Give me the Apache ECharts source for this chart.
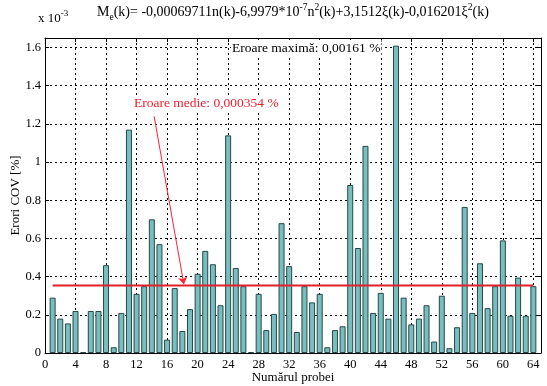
<!DOCTYPE html>
<html>
<head>
<meta charset="utf-8">
<script src="https://cdn.jsdelivr.net/npm/echarts@6/dist/echarts.min.js"></script>
<style>html,body{margin:0;padding:0;background:#fff;}#c{width:547px;height:386px;}</style>
</head>
<body>
<div id="c"></div>
<script>
// Sample numbers (x) and COV errors (in units of 1e-3 %)
const samples = [];
for (let i = 1; i <= 64; i++) samples.push(i);
const errors = [
  0.29, 0.18, 0.155, 0.22, 0.005, 0.22, 0.22, 0.46, 0.03, 0.21,
  1.17, 0.31, 0.35, 0.70, 0.57, 0.07, 0.34, 0.115, 0.23, 0.415,
  0.535, 0.465, 0.25, 1.14, 0.445, 0.35, 0.005, 0.31, 0.12, 0.205,
  0.68, 0.455, 0.11, 0.35, 0.265, 0.31, 0.03, 0.12, 0.14, 0.88,
  0.55, 1.085, 0.21, 0.315, 0.18, 1.61, 0.29, 0.15, 0.18, 0.25,
  0.06, 0.30, 0.025, 0.135, 0.765, 0.21, 0.47, 0.235, 0.35, 0.59,
  0.195, 0.395, 0.195, 0.35
];
const meanError = 0.354;
const meanSpan = [1, 64];
const arrowFrom = [14.3, 1.24];
const arrowTo = [18.2, 0.36];
const xTicks = [0,4,8,12,16,20,24,28,32,36,40,44,48,52,56,60,64];
const yTicks = [0,0.2,0.4,0.6,0.8,1,1.2,1.4,1.6];

const F = 'Liberation Serif, Times New Roman, serif';
const chart = echarts.init(document.getElementById('c'));
const barData = samples.map((s, i) => [s, errors[i]]);

chart.setOption({
  animation: false,
  backgroundColor: '#fff',
  grid: {left: 45, right: 6, top: 38, bottom: 33, show: false, containLabel: false, outerBoundsMode: 'none'},
  xAxis: [{
    type: 'value', min: 0, max: 65, interval: 4, position: 'bottom',
    name: 'Numărul probei', nameLocation: 'middle', nameGap: 18, nameMoveOverlap: false,
    nameTextStyle: {fontFamily: F, fontSize: 13, color: '#000'},
    axisLine: {show: true, onZero: false, lineStyle: {color: '#000', width: 1}},
    axisTick: {show: true, inside: true, length: 4, lineStyle: {color: '#000'}},
    axisLabel: {fontFamily: F, fontSize: 12.5, color: '#000', margin: 5,
      formatter: v => xTicks.indexOf(v) >= 0 ? String(v) : ''},
    splitLine: {show: true, lineStyle: {color: '#000', type: [2, 3], width: 1}}
  }, {
    type: 'value', min: 0, max: 65, interval: 4, position: 'top',
    axisLine: {show: true, onZero: false, lineStyle: {color: '#000'}},
    axisTick: {show: true, inside: true, length: 4, lineStyle: {color: '#000'}},
    axisLabel: {show: false}, splitLine: {show: false}
  }],
  yAxis: [{
    type: 'value', min: 0, max: 1.65, interval: 0.2, position: 'left',
    name: 'Erori COV [%]', nameLocation: 'middle', nameGap: 23, nameMoveOverlap: false,
    nameTextStyle: {fontFamily: F, fontSize: 13, color: '#000'},
    axisLine: {show: true, onZero: false, lineStyle: {color: '#000'}},
    axisTick: {show: true, inside: true, length: 4, lineStyle: {color: '#000'}},
    axisLabel: {fontFamily: F, fontSize: 12.5, color: '#000', margin: 4,
      formatter: v => {
        const r = Math.round(v * 10) / 10;
        return yTicks.some(t => Math.abs(t - r) < 1e-9) && Math.abs(v - r) < 1e-9 ? String(r) : '';
      }},
    splitLine: {show: true, lineStyle: {color: '#000', type: [2, 3], width: 1}}
  }, {
    type: 'value', min: 0, max: 1.65, interval: 0.2, position: 'right',
    axisLine: {show: true, onZero: false, lineStyle: {color: '#000'}},
    axisTick: {show: true, inside: true, length: 4, lineStyle: {color: '#000'}},
    axisLabel: {show: false}, splitLine: {show: false}
  }],
  series: [{
    type: 'bar', xAxisIndex: 0, yAxisIndex: 0,
    data: barData, barWidth: 6,
    itemStyle: {color: '#79bebe', borderColor: '#264848', borderWidth: 1}
  }, {
    type: 'line', xAxisIndex: 0, yAxisIndex: 0,
    data: meanSpan.map(x => [x, meanError]),
    symbol: 'none', lineStyle: {color: '#e0202a', width: 2}, z: 5,
    markLine: {
      silent: true, symbol: ['none', 'arrow'], symbolSize: 7,
      label: {show: false},
      lineStyle: {color: '#ff2030', width: 1, type: 'solid'},
      data: [[{coord: arrowFrom}, {coord: arrowTo}]]
    }
  }],
  graphic: [
    {type: 'text', left: 38, top: 9, style: {
      text: '{n|x 10}{s|-3}', rich: {
        n: {fontFamily: F, fontSize: 13, fill: '#000', verticalAlign: 'bottom', padding: [0,0,0,0]},
        s: {fontFamily: F, fontSize: 9, fill: '#000', verticalAlign: 'bottom', padding: [0,0,7,0]}
      }}},
    {type: 'text', left: 97, top: 2, style: {
      text: '{n|M}{b|e}{n|(k)= -0,00069711n(k)-6,9979*10}{s|-7}{n|n}{s|2}{n|(k)+3,1512ξ(k)-0,016201ξ}{s|2}{n|(k)}',
      rich: {
        n: {fontFamily: F, fontSize: 14, fill: '#000', verticalAlign: 'bottom', padding: [0,0,3,0]},
        b: {fontFamily: F, fontSize: 9.5, fill: '#000', verticalAlign: 'bottom', padding: [0,0,0,0]},
        s: {fontFamily: F, fontSize: 9.5, fill: '#000', verticalAlign: 'bottom', padding: [0,0,10,0]}
      }}},
    {type: 'text', left: 231, top: 40, z: 10, style: {
      text: 'Eroare maximă: 0,00161 %', fontFamily: F, fontSize: 13.5, fill: '#000',
      backgroundColor: '#fff', padding: [1, 1]}},
    {type: 'text', left: 133, top: 95, z: 10, style: {
      text: 'Eroare medie: 0,000354 %', fontFamily: F, fontSize: 13.5, fill: '#ee2030',
      backgroundColor: '#fff', padding: [1, 1]}}
  ]
});
</script>
</body>
</html>
